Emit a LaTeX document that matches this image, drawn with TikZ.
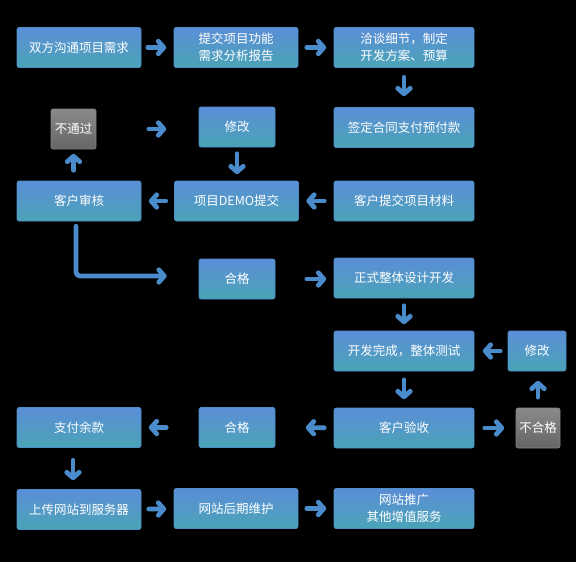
\documentclass[tikz,border=0pt]{standalone}
\usepackage{fontspec}
\newfontfamily\cjk{Noto Sans CJK SC}
\usetikzlibrary{arrows.meta}
\definecolor{boxtop}{HTML}{5B8ED8}
\definecolor{boxbot}{HTML}{4AA4B6}
\definecolor{boxedge}{HTML}{4F8FC8}
\definecolor{graytop}{HTML}{8A8A8A}
\definecolor{graybot}{HTML}{656565}
\definecolor{arrcol}{HTML}{4A8BCB}
\tikzset{
  bx/.style={rectangle, rounded corners=2pt, top color=boxtop, bottom color=boxbot,
    draw=boxedge, line width=0.6pt, text=white, align=center, inner sep=0pt,
    font=\cjk\fontsize{12.5}{17}\selectfont, minimum height=40pt},
  gbx/.style={bx, top color=graytop, bottom color=graybot, draw=graybot!80!white},
  wide/.style={minimum width=124pt},
  wider/.style={minimum width=140pt},
  small/.style={minimum width=76pt},
  arr/.style={draw=arrcol, line width=4.8pt, line cap=round, line join=round,
    -{Straight Barb[length=5.5pt,width=12.5pt,round]}},
  sh/.style 2 args={shorten <=#1pt, shorten >=#2pt}
}
\begin{document}
\begin{tikzpicture}[x=1pt,y=-1pt]
\fill[black] (0,0) rectangle (576,562);
\useasboundingbox (0,0) rectangle (576,562);
% row 1
\node[bx,wide] (a1) at (79,47.5) {双方沟通项目需求};
\node[bx,wide] (a2) at (236,47.5) {提交项目功能\\需求分析报告};
\node[bx,wider] (a3) at (404,47.5) {洽谈细节，制定\\开发方案、预算};
% row 2
\node[gbx,minimum width=45pt] (b1) at (73.5,129) {不通过};
\node[bx,small] (b2) at (237,127) {修改};
\node[bx,wider] (b3) at (404,127.5) {签定合同支付预付款};
% row 3
\node[bx,wide] (c1) at (79,201) {客户审核};
\node[bx,wide] (c2) at (236.5,201) {项目DEMO提交};
\node[bx,wider] (c3) at (404,201) {客户提交项目材料};
% row 4
\node[bx,small] (d2) at (237,279) {合格};
\node[bx,wider] (d3) at (404,278) {正式整体设计开发};
% row 5
\node[bx,wider] (e3) at (404,351) {开发完成，整体测试};
\node[bx,minimum width=58pt] (e4) at (537,351) {修改};
% row 6
\node[bx,wide] (f1) at (79,427.5) {支付余款};
\node[bx,small] (f2) at (237,427.5) {合格};
\node[bx,wider] (f3) at (404,428) {客户验收};
\node[gbx,minimum width=44pt] (f4) at (538,428) {不合格};
% row 7
\node[bx,wide] (g1) at (79,509.5) {上传网站到服务器};
\node[bx,wide] (g2) at (236,508.5) {网站后期维护};
\node[bx,wider] (g3) at (404,508.5) {网站推广\\其他增值服务};
% arrows
\draw[arr,sh={6.5}{7.5}] (a1) -- (a2);
\draw[arr,sh={8.5}{7.5}] (a2) -- (a3);
\draw[arr,sh={9.5}{11}] (a3) -- (b3);
\draw[arr,sh={9.5}{7.5}] (c3) -- (c2);
\draw[arr,sh={8.5}{7.5}] (c2) -- (c1);
\draw[arr,sh={10.5}{4.5}] (c1.north -| b1) -- (b1);
\draw[arr,sh={52.5}{32.5}] (b1) -- (b1 -| b2.west);
\draw[arr,sh={6.5}{6.5}] (b2) -- (b2 |- c2.north);
\draw[arr,rounded corners=4pt,shorten <=5pt] ([xshift=-3pt]c1.south) |- ([xshift=-32pt,yshift=3pt]d2.west);
\draw[arr,sh={31.5}{7.5}] (d2) -- (d2 -| d3.west);
\draw[arr,sh={7.5}{6.5}] (d3) -- (e3);
\draw[arr,sh={7.5}{8.5}] (e4) -- (e3);
\draw[arr,sh={8.5}{8.5}] (e3) -- (f3);
\draw[arr,sh={9.5}{30.5}] (f3) -- (f2);
\draw[arr,sh={10.5}{11.5}] (f3) -- (f4);
\draw[arr,sh={10.5}{9.5}] (f4.north) -- (e4.south -| f4);
\draw[arr,sh={32.5}{7.5}] (f2) -- (f1);
\draw[arr,sh={12.5}{9}] ([xshift=-6pt]f1.south) -- ([xshift=-6pt]g1.north);
\draw[arr,sh={7.5}{7.5}] (g1) -- (g2);
\draw[arr,sh={8.5}{7.5}] (g2) -- (g3);
\end{tikzpicture}
\end{document}
